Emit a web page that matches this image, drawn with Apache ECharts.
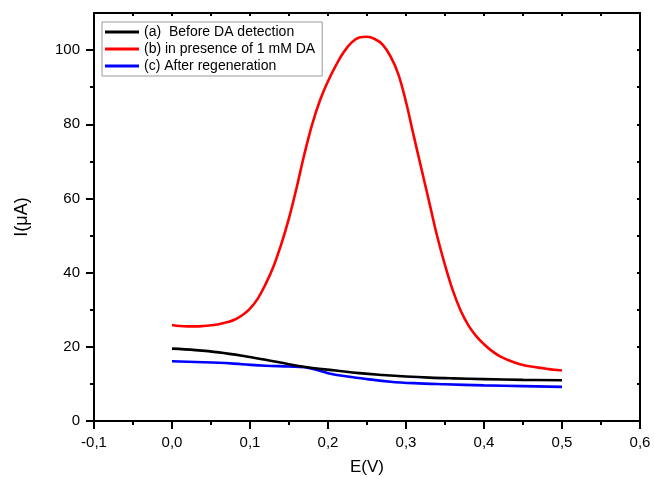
<!DOCTYPE html>
<html>
<head>
<meta charset="utf-8">
<script src="https://cdn.jsdelivr.net/npm/echarts@6/dist/echarts.min.js"></script>
<style>html,body{margin:0;padding:0;background:#fff}#c{width:654px;height:479px}</style>
</head>
<body>
<div id="c"></div>
<script>
const seriesNames = ['(a)  Before DA detection', '(b) in presence of 1 mM DA', '(c) After regeneration'];
const curveA = [[0,19.5],[0.03,19.1],[0.06,18.5],[0.09,17.6],[0.12,16.5],[0.15,15.3],[0.18,14.3],[0.21,13.6],[0.24,12.9],[0.27,12.4],[0.30,12.0],[0.33,11.7],[0.36,11.5],[0.40,11.3],[0.45,11.1],[0.50,11.0]];
const curveB = [[0,25.9],[0.01,25.6],[0.02,25.5],[0.03,25.5],[0.04,25.6],[0.05,25.8],[0.06,26.1],[0.07,26.6],[0.08,27.3],[0.09,28.5],[0.10,30.3],[0.11,33.0],[0.12,36.9],[0.13,41.6],[0.14,47.6],[0.15,54.7],[0.16,63.1],[0.17,72.2],[0.18,80.2],[0.19,86.6],[0.20,91.6],[0.21,95.8],[0.22,99.4],[0.23,102.0],[0.24,103.4],[0.25,103.6],[0.26,103.0],[0.27,101.5],[0.28,98.4],[0.29,93.6],[0.30,86.0],[0.31,76.8],[0.32,67.8],[0.33,58.8],[0.34,49.8],[0.35,42.0],[0.36,35.2],[0.37,29.8],[0.38,25.8],[0.39,22.9],[0.40,20.7],[0.41,18.9],[0.42,17.5],[0.43,16.5],[0.44,15.7],[0.45,15.1],[0.46,14.7],[0.47,14.4],[0.48,14.1],[0.49,13.8],[0.50,13.6]];
const curveC = [[0,16.1],[0.03,15.9],[0.06,15.7],[0.09,15.3],[0.12,14.9],[0.15,14.7],[0.17,14.5],[0.185,13.8],[0.20,12.9],[0.225,12.0],[0.25,11.3],[0.28,10.6],[0.31,10.2],[0.35,9.9],[0.40,9.6],[0.45,9.4],[0.50,9.2]];
const xMajor = [-0.1,0,0.1,0.2,0.3,0.4,0.5,0.6];
const xMinor = [-0.05,0.05,0.15,0.25,0.35,0.45,0.55];
const xAll = [-0.1,-0.05,0,0.05,0.1,0.15,0.2,0.25,0.3,0.35,0.4,0.45,0.5,0.55,0.6];
const yMajor = [0,20,40,60,80,100];
const yMinor = [10,30,50,70,90];
const yAll = [0,10,20,30,40,50,60,70,80,90,100,110];

const FONT = 'Liberation Sans, Arial, sans-serif';
const fmtX = v => (Math.round(v*10)/10).toFixed(1).replace('.', ',');

const chart = echarts.init(document.getElementById('c'));
chart.setOption({
  animation:false,
  backgroundColor:'#fff',
  grid:{left:94, right:14, top:13, bottom:58, outerBoundsMode:'none', containLabel:false},
  legend:{
    orient:'vertical', left:102, top:22, padding:[3,7,3,3], itemGap:3,
    borderColor:'#999', borderWidth:1, backgroundColor:'#fff',
    icon:'rect', itemWidth:34, itemHeight:3,
    textStyle:{fontFamily:FONT, fontSize:14, color:'#000'},
    data: seriesNames
  },
  xAxis:[
    {type:'value', position:'bottom', min:-0.1, max:0.6,
     name:'E(V)', nameLocation:'middle', nameGap:38, nameTextStyle:{fontFamily:FONT, fontSize:17, color:'#000'},
     axisLine:{show:true, onZero:false, lineStyle:{color:'#000', width:2}},
     axisTick:{show:true, customValues:xMajor, length:8, lineStyle:{color:'#000', width:2}},
     axisLabel:{customValues:xMajor, formatter:fmtX, fontFamily:FONT, fontSize:15, color:'#000', margin:14},
     splitLine:{show:false}},
    {type:'value', position:'bottom', min:-0.1, max:0.6,
     axisLine:{show:false, onZero:false},
     axisTick:{show:true, customValues:xMinor, length:4, lineStyle:{color:'#000', width:2}},
     axisLabel:{show:false}, splitLine:{show:false}},
    {type:'value', position:'top', min:-0.1, max:0.6,
     axisLine:{show:true, onZero:false, lineStyle:{color:'#000', width:2}},
     axisTick:{show:true, inside:true, customValues:xAll, length:3, lineStyle:{color:'#000', width:2}},
     axisLabel:{show:false}, splitLine:{show:false}}
  ],
  yAxis:[
    {type:'value', position:'left', min:0, max:110,
     name:'I(μA)', nameLocation:'middle', nameGap:63, nameRotate:90, nameTextStyle:{fontFamily:FONT, fontSize:18, color:'#000'},
     axisLine:{show:true, onZero:false, lineStyle:{color:'#000', width:2}},
     axisTick:{show:true, customValues:yMajor, length:8, lineStyle:{color:'#000', width:2}},
     axisLabel:{customValues:yMajor, fontFamily:FONT, fontSize:15, color:'#000', margin:14},
     splitLine:{show:false}},
    {type:'value', position:'left', min:0, max:110,
     axisLine:{show:false, onZero:false},
     axisTick:{show:true, customValues:yMinor, length:4, lineStyle:{color:'#000', width:2}},
     axisLabel:{show:false}, splitLine:{show:false}},
    {type:'value', position:'right', min:0, max:110,
     axisLine:{show:true, onZero:false, lineStyle:{color:'#000', width:2}},
     axisTick:{show:true, inside:true, customValues:yAll, length:3, lineStyle:{color:'#000', width:2}},
     axisLabel:{show:false}, splitLine:{show:false}}
  ],
  series:[
    {name:seriesNames[0], type:'line', data:curveA, smooth:0.4, showSymbol:false, xAxisIndex:0, yAxisIndex:0,
     itemStyle:{color:'#000'}, lineStyle:{color:'#000', width:2.6}, z:3},
    {name:seriesNames[1], type:'line', data:curveB, smooth:0.4, showSymbol:false, xAxisIndex:0, yAxisIndex:0,
     itemStyle:{color:'#ff0000'}, lineStyle:{color:'#ff0000', width:2.6}, z:2},
    {name:seriesNames[2], type:'line', data:curveC, smooth:0.4, showSymbol:false, xAxisIndex:0, yAxisIndex:0,
     itemStyle:{color:'#0000ff'}, lineStyle:{color:'#0000ff', width:2.6}, z:2}
  ]
});
</script>
</body>
</html>
